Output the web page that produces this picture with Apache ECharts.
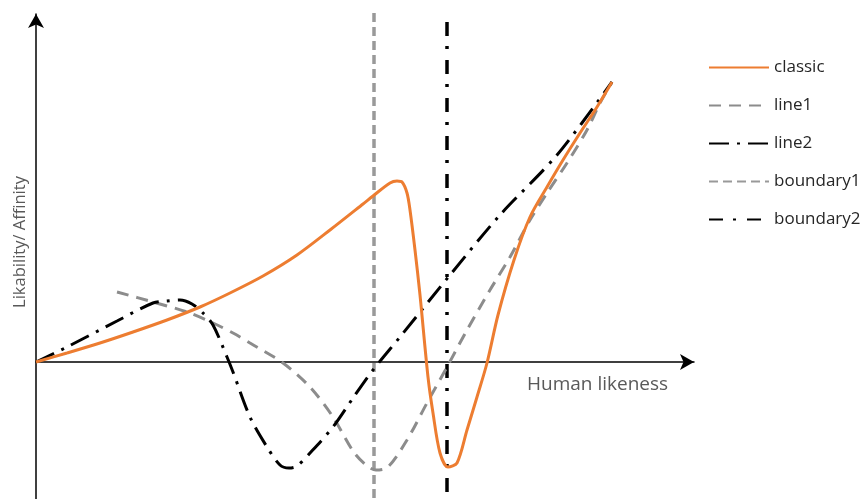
<!DOCTYPE html>
<html><head><meta charset="utf-8">
<script src="https://cdn.jsdelivr.net/npm/echarts@6/dist/echarts.min.js"></script>
<style>html,body{margin:0;padding:0;background:#fff}#c{width:865px;height:499px}</style>
</head><body><div id="c"></div>
<script>
// values in arbitrary units (x: human likeness, y: affinity)
const seriesNames = ['classic','line1','line2','boundary1','boundary2'];
const classic = [[0,0],[31,9],[64,19],[97,30],[131,42],[164,55],[194,69],[227,86],[261,107],[294,132],[327,158],[337,166],[354,179],[361,181],[366,180],[371,169],[374,152],[379,112],[384,67],[392,-15],[397,-51],[404,-91],[412,-105],[421,-101],[431,-68],[441,-35],[451,-1],[462,47],[478,102],[494,145],[511,175],[527,202],[544,229],[561,255],[576,280]];
const line1 = [[81,70],[117,60],[151,50],[177,39],[197,29],[214,19],[247,-1],[274,-25],[297,-55],[317,-89],[330,-103],[340,-108],[352,-105],[371,-78],[391,-41],[411,-5],[431,32],[454,72],[474,105],[494,142],[511,169],[531,199],[551,232],[564,259],[576,280]];
const line2 = [[0,0],[31,15],[81,41],[117,59],[131,61],[144,62],[156,58],[167,49],[177,37],[191,5],[197,-10],[214,-55],[231,-85],[244,-103],[253,-106],[261,-104],[274,-91],[297,-65],[317,-36],[337,-8],[364,25],[414,87],[464,147],[521,207],[576,280]];
const boundary1 = [[338,349],[338,-137]];
const boundary2 = [[411,340],[411,-137]];
const axisNames = ['Human likeness','Likability/ Affinity'];

const chart = echarts.init(document.getElementById('c'), null, {renderer:'canvas'});
const FONT = 'Open Sans';
chart.setOption({
  animation:false,
  grid:{left:36,right:171,top:14,bottom:0,containLabel:false},
  xAxis:{type:'value',min:0,max:658,splitLine:{show:false},axisLabel:{show:false},axisTick:{show:false},
    axisLine:{onZero:true,symbol:['none','arrow'],symbolSize:[12,14],lineStyle:{color:'#000',width:1.5}}},
  yAxis:{type:'value',min:-137,max:348,splitLine:{show:false},axisLabel:{show:false},axisTick:{show:false},
    axisLine:{onZero:true,symbol:['none','arrow'],symbolSize:[12,14],lineStyle:{color:'#000',width:1.5}}},
  legend:{orient:'vertical',left:703,top:54,itemWidth:60,itemHeight:14,itemGap:21,
    itemStyle:{opacity:0},
    textStyle:{fontFamily:FONT,fontSize:17,color:'#262626'},
    data:seriesNames},
  graphic:[
    {type:'text',left:527,top:375,style:{text:axisNames[0],fontFamily:FONT,fontSize:19,fill:'#595959'}},
    {type:'text',x:20,y:242,rotation:Math.PI/2,style:{text:axisNames[1],fontFamily:FONT,fontSize:16.5,fill:'#595959',textAlign:'center',textVerticalAlign:'middle'}}
  ],
  series:[
    {name:seriesNames[0],type:'line',data:classic,smooth:0.3,symbol:'none',lineStyle:{color:'#ED7D31',width:3},itemStyle:{color:'#ED7D31'},z:5},
    {name:seriesNames[1],type:'line',data:line1,smooth:0.3,symbol:'none',lineStyle:{color:'#8C8C8C',width:3,type:[12,8]},itemStyle:{color:'#8C8C8C'},z:3},
    {name:seriesNames[2],type:'line',data:line2,smooth:0.3,symbol:'none',lineStyle:{color:'#000',width:3,type:[20,8,3,8]},itemStyle:{color:'#000'},z:4},
    {name:seriesNames[3],type:'line',data:boundary1,symbol:'none',lineStyle:{color:'#999',width:3.5,type:[9,5]},itemStyle:{color:'#999'},z:2},
    {name:seriesNames[4],type:'line',data:boundary2,symbol:'none',lineStyle:{color:'#000',width:3.5,type:[14,10,3,11]},itemStyle:{color:'#000'},z:2}
  ]
});
</script></body></html>
